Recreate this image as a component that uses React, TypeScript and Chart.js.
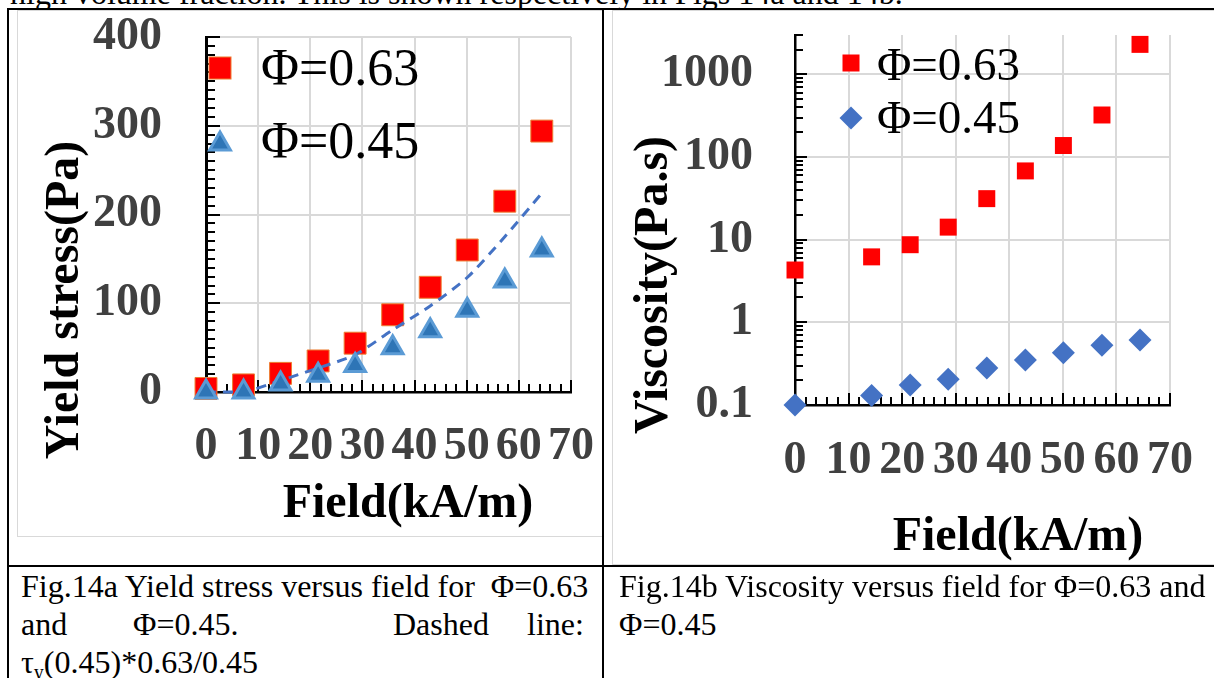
import React, { useEffect, useRef } from 'react';
import { Chart, registerables } from 'chart.js';

Chart.register(...registerables);

const FONT = "'Liberation Serif', 'Times New Roman', Times, serif";

// ---- Fig.14a data (Yield stress vs field) ----
const fieldA = [0, 7.2, 14.3, 21.5, 28.6, 35.8, 43.0, 50.1, 57.3, 64.4];
const yield063 = [4, 8, 21, 35, 55, 87, 118, 160, 215, 294];
const yield045 = [0, 0, 9, 19, 30, 50, 69, 92, 125, 160];
const yieldDashed = [0, 0, 13, 27, 42, 70, 97, 129, 175, 224];
const yTicksA = [0, 100, 200, 300, 400];
const xTicks = [0, 10, 20, 30, 40, 50, 60, 70];

// ---- Fig.14b data (Viscosity vs field) ----
const fieldB = [0, 14.3, 21.5, 28.6, 35.8, 43.0, 50.1, 57.3, 64.4];
const visc063 = [4.3, 6.2, 8.7, 14.2, 31.4, 68, 138, 323, 2310];
const visc045 = [0.1, 0.13, 0.175, 0.205, 0.28, 0.35, 0.43, 0.53, 0.61];
const yTicksB = [0.1, 1, 10, 100, 1000];

const legendLabels = ['\u03A6=0.63', '\u03A6=0.45'];

const pts = (xs: number[], ys: number[]) => xs.map((x, i) => ({ x, y: ys[i] }));
const isDecade = (v: number) => {
  const l = Math.log10(v);
  return Math.abs(l - Math.round(l)) < 1e-6;
};

const tickFont = { family: FONT, size: 46, weight: 'bold' as const, lineHeight: 1 };

function line(ctx: CanvasRenderingContext2D, x1: number, y1: number, x2: number, y2: number) {
  ctx.beginPath();
  ctx.moveTo(x1, y1);
  ctx.lineTo(x2, y2);
  ctx.stroke();
}

const zeroPad = (s: any) => {
  s.paddingTop = 0;
  s.paddingBottom = 0;
  s.paddingLeft = 0;
  s.paddingRight = 0;
};

export default function App() {
  const leftRef = useRef<HTMLCanvasElement>(null);
  const rightRef = useRef<HTMLCanvasElement>(null);

  useEffect(() => {
    const leftDeco = {
      id: 'leftDeco',
      beforeDatasetsDraw(chart: any) {
        const { ctx, chartArea, scales } = chart;
        const x = scales.x, y = scales.y;
        ctx.save();
        ctx.strokeStyle = '#000';
        ctx.lineWidth = 2;
        for (let v = 0; v <= 400; v += 10) {
          const py = Math.round(y.getPixelForValue(v));
          line(ctx, chartArea.left, py, chartArea.left + (v % 100 === 0 ? 14 : 9), py);
        }
        for (let v = 0; v <= 70; v += 2) {
          const px = Math.round(x.getPixelForValue(v));
          line(ctx, px, chartArea.bottom, px, chartArea.bottom - (v % 10 === 0 ? 12 : 8));
        }
        ctx.restore();
      },
      afterDraw(chart: any) {
        const { ctx } = chart;
        ctx.save();
        ctx.fillStyle = '#000';
        ctx.font = `bold 48px ${FONT}`;
        ctx.textAlign = 'center';
        ctx.textBaseline = 'alphabetic';
        ctx.fillText('Field(kA/m)', 391, 507);
        ctx.save();
        ctx.translate(61, 290);
        ctx.rotate(-Math.PI / 2);
        ctx.fillText('Yield stress(Pa)', 0, 0);
        ctx.restore();
        // legend
        ctx.fillStyle = '#FF0000';
        ctx.strokeStyle = '#ED7D31';
        ctx.lineWidth = 1;
        ctx.fillRect(192, 47, 22, 22);
        ctx.strokeRect(192, 47, 22, 22);
        ctx.beginPath();
        ctx.moveTo(203, 122);
        ctx.lineTo(213.4, 140);
        ctx.lineTo(192.6, 140);
        ctx.closePath();
        ctx.fillStyle = '#2E75B6';
        ctx.fill();
        ctx.strokeStyle = '#5B9BD5';
        ctx.lineWidth = 3;
        ctx.stroke();
        ctx.fillStyle = '#000';
        ctx.font = `52px ${FONT}`;
        ctx.textAlign = 'left';
        ctx.fillText(legendLabels[0], 244, 75);
        ctx.fillText(legendLabels[1], 244, 148);
        ctx.restore();
      },
    };

    const rightDeco = {
      id: 'rightDeco',
      beforeDatasetsDraw(chart: any) {
        const { ctx, chartArea, scales } = chart;
        const x = scales.x, y = scales.y;
        ctx.save();
        ctx.strokeStyle = '#000';
        ctx.lineWidth = 2;
        for (let d = 0.1; d <= 1000 * 1.01; d *= 10) {
          for (let m = 1; m <= 9; m++) {
            const v = m * d;
            if (v > 3000 * 1.001) break;
            const py = Math.round(y.getPixelForValue(v));
            line(ctx, chartArea.left, py, chartArea.left + (m === 1 ? 12 : 8), py);
          }
        }
        for (let v = 0; v <= 70; v += 2) {
          const px = Math.round(x.getPixelForValue(v));
          line(ctx, px, chartArea.bottom, px, chartArea.bottom - (v % 10 === 0 ? 12 : 8));
        }
        ctx.restore();
      },
      afterDraw(chart: any) {
        const { ctx } = chart;
        ctx.save();
        ctx.fillStyle = '#000';
        ctx.font = `bold 48px ${FONT}`;
        ctx.textAlign = 'center';
        ctx.textBaseline = 'alphabetic';
        ctx.fillText('Field(kA/m)', 406, 540);
        ctx.save();
        ctx.translate(55, 275);
        ctx.rotate(-Math.PI / 2);
        ctx.fillText('Viscosity(Pa.s)', 0, 0);
        ctx.restore();
        // legend
        ctx.fillStyle = '#FF0000';
        ctx.fillRect(230.5, 44.5, 17, 17);
        ctx.beginPath();
        ctx.moveTo(239, 96.5);
        ctx.lineTo(250.5, 108);
        ctx.lineTo(239, 119.5);
        ctx.lineTo(227.5, 108);
        ctx.closePath();
        ctx.fillStyle = '#4472C4';
        ctx.fill();
        ctx.fillStyle = '#000';
        ctx.font = `47px ${FONT}`;
        ctx.textAlign = 'left';
        ctx.fillText(legendLabels[0], 265, 70);
        ctx.fillText(legendLabels[1], 265, 123);
        ctx.restore();
      },
    };

    const left = new Chart(leftRef.current as HTMLCanvasElement, {
      type: 'scatter',
      data: {
        datasets: [
          {
            label: legendLabels[1],
            data: pts(fieldA, yield045),
            pointStyle: 'triangle',
            pointRadius: 12,
            backgroundColor: '#2E75B6',
            borderColor: '#5B9BD5',
            borderWidth: 3,
            order: 1,
            clip: false,
          } as any,
          {
            label: 'dashed',
            data: pts(fieldA, yieldDashed),
            showLine: true,
            pointRadius: 0,
            borderColor: '#4472C4',
            backgroundColor: '#4472C4',
            borderWidth: 3,
            borderDash: [10, 7],
            tension: 0.25,
            order: 2,
            clip: false,
          } as any,
          {
            label: legendLabels[0],
            data: pts(fieldA, yield063),
            pointStyle: 'rect',
            pointRadius: 15.5,
            backgroundColor: '#FF0000',
            borderColor: '#ED7D31',
            borderWidth: 1,
            order: 3,
            clip: false,
          } as any,
        ],
      },
      options: {
        responsive: false,
        animation: false,
        devicePixelRatio: 1,
        events: [],
        layout: { padding: { top: 27, right: 32, left: 0, bottom: 0 } },
        plugins: { legend: { display: false }, tooltip: { enabled: false } },
        scales: {
          x: {
            type: 'linear',
            min: 0,
            max: 70,
            afterBuildTicks: (s: any) => { s.ticks = xTicks.map((v) => ({ value: v })); },
            ticks: { autoSkip: false, maxRotation: 0, minRotation: 0, padding: 32, color: '#404040', font: tickFont },
            grid: { color: '#d9d9d9', lineWidth: 2, drawTicks: false },
            border: { color: '#000', width: 2.5 },
            afterFit: (s: any) => { s.height = 145; zeroPad(s); },
          },
          y: {
            type: 'linear',
            min: 0,
            max: 400,
            afterBuildTicks: (s: any) => { s.ticks = yTicksA.map((v) => ({ value: v })); },
            ticks: { padding: 44, color: '#404040', font: tickFont },
            grid: { color: '#d9d9d9', lineWidth: 2, drawTicks: false },
            border: { color: '#000', width: 3 },
            afterFit: (s: any) => { s.width = 189; zeroPad(s); },
          },
        },
      } as any,
      plugins: [leftDeco],
    });

    const right = new Chart(rightRef.current as HTMLCanvasElement, {
      type: 'scatter',
      data: {
        datasets: [
          {
            label: legendLabels[0],
            data: pts(fieldB, visc063),
            pointStyle: 'rect',
            pointRadius: 12,
            backgroundColor: '#FF0000',
            borderWidth: 0,
            clip: false,
          } as any,
          {
            label: legendLabels[1],
            data: pts(fieldB, visc045),
            pointStyle: 'rectRot',
            pointRadius: 11.5,
            backgroundColor: '#4472C4',
            borderWidth: 0,
            clip: false,
          } as any,
        ],
      },
      options: {
        responsive: false,
        animation: false,
        devicePixelRatio: 1,
        events: [],
        layout: { padding: { top: 25, right: 44, left: 0, bottom: 0 } },
        plugins: { legend: { display: false }, tooltip: { enabled: false } },
        scales: {
          x: {
            type: 'linear',
            min: 0,
            max: 70,
            afterBuildTicks: (s: any) => { s.ticks = xTicks.map((v) => ({ value: v })); },
            ticks: { autoSkip: false, maxRotation: 0, minRotation: 0, padding: 33, color: '#404040', font: tickFont },
            grid: { color: '#d9d9d9', lineWidth: 2, drawTicks: false },
            border: { color: '#000', width: 2.5 },
            afterFit: (s: any) => { s.height = 160; zeroPad(s); },
          },
          y: {
            type: 'logarithmic',
            min: 0.1,
            max: 3000,
            afterBuildTicks: (s: any) => { s.ticks = yTicksB.map((v) => ({ value: v })); },
            ticks: {
              padding: 42,
              color: '#404040',
              font: tickFont,
              callback: (v: any) => (isDecade(Number(v)) ? String(Number(Number(v).toPrecision(3))) : null),
            },
            grid: { color: '#d9d9d9', lineWidth: 2, drawTicks: false },
            border: { color: '#000', width: 2.5 },
            afterFit: (s: any) => { s.width = 183; zeroPad(s); },
          },
        },
      } as any,
      plugins: [rightDeco],
    });

    return () => {
      left.destroy();
      right.destroy();
    };
  }, []);

  const abs = (l: number, t: number, w: number, h: number, extra: any = {}) => ({
    position: 'absolute' as const, left: l, top: t, width: w, height: h, ...extra,
  });
  const FS = 32;
  const textLine = (l: number, baseline: number) => ({
    position: 'absolute' as const,
    left: l,
    top: baseline - (FS - 1.107 * FS) / 2 - 0.891 * FS,
    fontSize: FS,
    lineHeight: `${FS}px`,
    whiteSpace: 'pre' as const,
    color: '#000',
  });

  return (
    <div style={{ position: 'absolute', left: 0, top: 0, width: 1214, height: 678, overflow: 'hidden', background: '#fff', fontFamily: FONT }}>
      <div style={textLine(10, 4)}>high volume fraction. This is shown respectively in Figs 14a and 14b.</div>

      <div style={abs(17, 10, 586, 527)}>
        <canvas ref={leftRef} width={586} height={527} style={{ display: 'block' }} />
        <div style={abs(0, 0, 586, 527, { boxSizing: 'border-box', border: '1px solid #d9d9d9', pointerEvents: 'none' })} />
      </div>
      <div style={abs(612, 10, 610, 555)}>
        <canvas ref={rightRef} width={602} height={555} style={{ display: 'block' }} />
        <div style={abs(0, 0, 610, 555, { boxSizing: 'border-box', border: '1px solid #d9d9d9', pointerEvents: 'none' })} />
      </div>

      {/* table borders */}
      <div style={abs(7, 8, 1207, 2, { background: '#000' })} />
      <div style={abs(7, 8, 2, 670, { background: '#000' })} />
      <div style={abs(602, 8, 2, 670, { background: '#000' })} />
      <div style={abs(7, 565, 1207, 2, { background: '#000' })} />

      {/* captions */}
      <div style={textLine(21, 597)}>{'Fig.14a Yield stress versus field for  \u03A6=0.63'}</div>
      <div style={textLine(21, 635)}>and</div>
      <div style={textLine(133, 635)}>{'\u03A6=0.45.'}</div>
      <div style={textLine(393, 635)}>Dashed</div>
      <div style={textLine(527, 635)}>line:</div>
      <div style={textLine(21, 673)}>
        {'\u03C4'}<sub style={{ fontSize: 20, verticalAlign: '-6px', lineHeight: 0 }}>y</sub>(0.45)*0.63/0.45
      </div>
      <div style={textLine(619, 597)}>{'Fig.14b Viscosity versus field for \u03A6=0.63 and'}</div>
      <div style={textLine(619, 635)}>{'\u03A6=0.45'}</div>
    </div>
  );
}
